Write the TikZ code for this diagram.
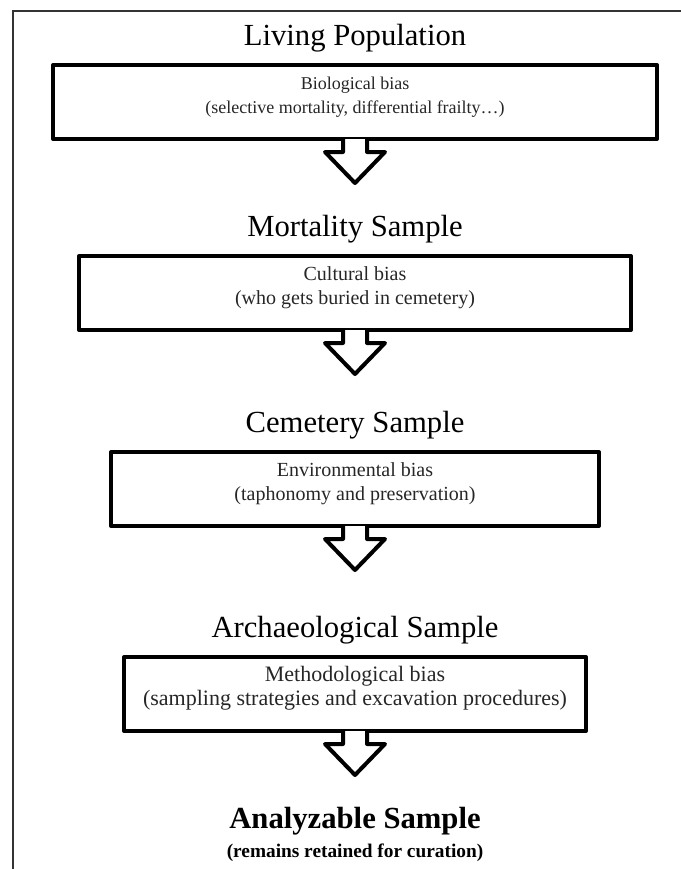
\documentclass[tikz,border=0pt]{standalone}
\usepackage{fontspec}
\setmainfont{Liberation Serif}
\usetikzlibrary{calc}
\begin{document}
\begin{tikzpicture}[x=0.75pt,y=-0.75pt,
 stage/.style={anchor=base,font=\fontsize{23}{27}\selectfont},
 biasbox/.style={draw,line width=3pt,line join=round,anchor=north,align=center,inner xsep=0pt,inner ysep=0pt,text height=36pt,text depth=19.5pt,font=\fontsize{#1}{18}\selectfont,text=black!85},
 blockarrow/.style={draw,fill=white,line width=3pt,line join=round}]
 \useasboundingbox (0,0) rectangle (681,869);
 \draw[line width=1.1pt,black!80](681,11)--(13,11)--(13,869);
 \node[stage](living) at (355,45) {Living Population};
 \node[biasbox=13.5,minimum width=453pt](bio) at (355,63) {Biological bias\\(selective mortality, differential frailty…)};
 \filldraw[blockarrow]($(bio.south)+(-12,-2)$)--++(0,13)--++(-18,0)--++(30,31)--++(30,-31)--++(-18,0)--++(0,-13);
 \node[stage](mortality) at (355,236) {Mortality Sample};
 \node[biasbox=15,minimum width=414pt](cult) at (355,254) {Cultural bias\\(who gets buried in cemetery)};
 \filldraw[blockarrow]($(cult.south)+(-12,-2)$)--++(0,13)--++(-18,0)--++(30,31)--++(30,-31)--++(-18,0)--++(0,-13);
 \node[stage](cemetery) at (355,432) {Cemetery Sample};
 \node[biasbox=15,minimum width=366pt](env) at (355,450) {Environmental bias\\(taphonomy and preservation)};
 \filldraw[blockarrow]($(env.south)+(-12,-2)$)--++(0,13)--++(-18,0)--++(30,31)--++(30,-31)--++(-18,0)--++(0,-13);
 \node[stage](archaeo) at (355,637) {Archaeological Sample};
 \node[biasbox=16.5,minimum width=346.5pt](meth) at (355,655) {Methodological bias\\(sampling strategies and excavation procedures)};
 \filldraw[blockarrow]($(meth.south)+(-12,-2)$)--++(0,13)--++(-18,0)--++(30,31)--++(30,-31)--++(-18,0)--++(0,-13);
 \node[stage,font=\fontsize{23}{27}\selectfont\bfseries](analyz) at (355,828) {Analyzable Sample};
 \node[anchor=base,font=\fontsize{14.5}{17}\selectfont\bfseries](curation) at (355,857) {(remains retained for curation)};
\end{tikzpicture}
\end{document}
